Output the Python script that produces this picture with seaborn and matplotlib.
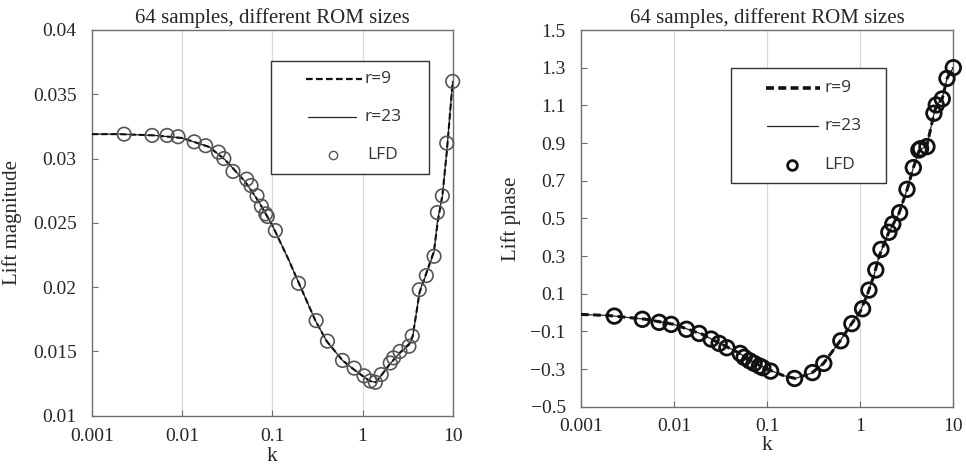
import numpy as np
import pandas as pd
import matplotlib
matplotlib.use("Agg")
import matplotlib.pyplot as plt
import seaborn as sns
from matplotlib.ticker import FixedLocator, FixedFormatter, NullLocator
from matplotlib.lines import Line2D
from matplotlib.patches import Rectangle

# ---------------- data ----------------
title = "64 samples, different ROM sizes"
x_label = "k"
mag_label = "Lift magnitude"
phase_label = "Lift phase"
series_labels = ["r=9", "r=23", "LFD"]

x_ticks = [0.001, 0.01, 0.1, 1, 10]
x_tick_labels = ["0.001", "0.01", "0.1", "1", "10"]
mag_ticks = [0.01, 0.015, 0.02, 0.025, 0.03, 0.035, 0.04]
mag_tick_labels = ["0.01", "0.015", "0.02", "0.025", "0.03", "0.035", "0.04"]
phase_ticks = [-0.5, -0.3, -0.1, 0.1, 0.3, 0.5, 0.7, 0.9, 1.1, 1.3, 1.5]
phase_tick_labels = ["\u22120.5", "\u22120.3", "\u22120.1", "0.1", "0.3", "0.5",
                     "0.7", "0.9", "1.1", "1.3", "1.5"]

# ROM curves, lift magnitude
mag_line_k = [0.001, 0.002, 0.005, 0.01, 0.02, 0.03, 0.05, 0.07, 0.1, 0.15, 0.2,
              0.3, 0.4, 0.6, 0.8, 1.0, 1.2, 1.4, 1.6, 2.0, 2.6, 3.3, 3.6, 4.3,
              5.1, 6.2, 6.8, 7.7, 8.6, 10.0]
mag_r9 = [0.0319, 0.0319, 0.0318, 0.0316, 0.0309, 0.0299, 0.0282, 0.0267, 0.0248,
          0.0222, 0.0202, 0.0174, 0.0158, 0.0143, 0.0136, 0.0131, 0.0127, 0.0126,
          0.0131, 0.0140, 0.0149, 0.0156, 0.0162, 0.0196, 0.0211, 0.0228, 0.0250,
          0.0272, 0.0305, 0.0360]
mag_r23 = [0.0319, 0.0319, 0.0318, 0.0316, 0.0309, 0.0299, 0.0282, 0.0267, 0.0248,
           0.0222, 0.0202, 0.0174, 0.0158, 0.0143, 0.0136, 0.0131, 0.0127, 0.0126,
           0.0131, 0.0140, 0.0149, 0.0155, 0.0161, 0.0197, 0.0210, 0.0227, 0.0252,
           0.0271, 0.0306, 0.0360]

# LFD samples, lift magnitude
lfd_mag_k = [0.00227, 0.00464, 0.0068, 0.0090, 0.0136, 0.0182, 0.0253, 0.0290,
             0.0366, 0.0519, 0.058, 0.0676, 0.0755, 0.0844, 0.088, 0.108, 0.195,
             0.306, 0.408, 0.600, 0.808, 1.04, 1.22, 1.39, 1.61, 2.03, 2.21, 2.60,
             3.27, 3.56, 4.26, 5.10, 6.21, 6.76, 7.68, 8.58, 10.0]
lfd_mag = [0.0319, 0.0318, 0.0318, 0.0317, 0.0313, 0.0310, 0.0305, 0.0300, 0.0290,
           0.0284, 0.0279, 0.0271, 0.0263, 0.0257, 0.0255, 0.0244, 0.0203, 0.0174,
           0.0158, 0.0143, 0.0137, 0.0131, 0.0127, 0.0126, 0.0132, 0.0141, 0.0145,
           0.0150, 0.0154, 0.0162, 0.0198, 0.0209, 0.0224, 0.0258, 0.0271, 0.0312,
           0.0360]

# ROM curves, lift phase
phase_line_k = [0.001, 0.002, 0.005, 0.01, 0.02, 0.03, 0.05, 0.07, 0.1, 0.15, 0.2,
                0.3, 0.4, 0.6, 0.8, 1.0, 1.2, 1.4, 1.6, 2.0, 2.6, 3.2, 3.7, 4.3,
                5.2, 6.2, 6.6, 7.6, 8.6, 10.0]
phase_r9 = [-0.010, -0.016, -0.036, -0.063, -0.115, -0.160, -0.215, -0.262, -0.300,
            -0.335, -0.350, -0.322, -0.272, -0.155, -0.062, 0.005, 0.100, 0.195,
            0.300, 0.420, 0.525, 0.655, 0.765, 0.860, 0.885, 1.055, 1.100, 1.135,
            1.245, 1.300]
phase_r23 = [-0.010, -0.016, -0.036, -0.063, -0.115, -0.160, -0.215, -0.262, -0.300,
             -0.335, -0.350, -0.322, -0.272, -0.155, -0.062, 0.005, 0.100, 0.195,
             0.300, 0.420, 0.525, 0.655, 0.765, 0.862, 0.884, 1.055, 1.100, 1.135,
             1.245, 1.300]

# LFD samples, lift phase
lfd_phase_k = [0.00228, 0.00456, 0.0069, 0.0093, 0.0136, 0.0186, 0.025, 0.0305,
               0.0369, 0.0513, 0.0566, 0.0646, 0.0725, 0.0827, 0.0898, 0.109, 0.197,
               0.307, 0.406, 0.619, 0.813, 1.06, 1.24, 1.47, 1.67, 2.03, 2.24, 2.65,
               3.18, 3.72, 4.27, 4.45, 5.21, 6.19, 6.56, 7.61, 8.55, 10.0]
lfd_phase = [-0.019, -0.036, -0.052, -0.063, -0.089, -0.111, -0.141, -0.164, -0.187,
             -0.217, -0.238, -0.256, -0.270, -0.284, -0.293, -0.311, -0.350, -0.319,
             -0.270, -0.150, -0.059, 0.020, 0.119, 0.226, 0.335, 0.426, 0.470, 0.530,
             0.654, 0.769, 0.863, 0.870, 0.881, 1.058, 1.102, 1.134, 1.243, 1.300]

# ---------------- style ----------------
sns.set_theme(style="white")
plt.rcParams["font.family"] = ["Liberation Serif", "DejaVu Serif"]
plt.rcParams["axes.unicode_minus"] = True

W, H = 966, 465
fig = plt.figure(figsize=(W / 100, H / 100), dpi=100)
fig.patch.set_facecolor("white")

def px_rect(x0, y0, x1, y1):
    return [x0 / W, 1 - y1 / H, (x1 - x0) / W, (y1 - y0) / H]

ax1 = fig.add_axes(px_rect(92, 30, 452.7, 415.7))
ax2 = fig.add_axes(px_rect(581, 30, 953.3, 406.7))

spine_col = "#6e6e6e"
grid_col = "#d9d9d9"
text_col = "#262626"

def style_axis(ax, yticks, ylabels, ylim, ylabel, xpad, ylabel_pad, xlabel_pad):
    ax.set_xscale("log")
    ax.set_xlim(0.001, 10)
    ax.set_ylim(*ylim)
    ax.xaxis.set_major_locator(FixedLocator(x_ticks))
    ax.xaxis.set_major_formatter(FixedFormatter(x_tick_labels))
    ax.xaxis.set_minor_locator(NullLocator())
    ax.yaxis.set_major_locator(FixedLocator(yticks))
    ax.yaxis.set_major_formatter(FixedFormatter(ylabels))
    ax.yaxis.set_minor_locator(NullLocator())
    ax.tick_params(axis="x", direction="in", length=4, width=0.8, color=spine_col,
                   labelsize=14, pad=xpad, labelcolor=text_col, bottom=True)
    ax.tick_params(axis="y", direction="in", length=4, width=0.8, color=spine_col,
                   labelsize=14, pad=11, labelcolor=text_col, left=True)
    for s in ax.spines.values():
        s.set_color(spine_col)
        s.set_linewidth(1.0)
    ax.grid(False)
    for xv in x_ticks[1:-1]:
        ax.axvline(xv, color=grid_col, lw=0.9, zorder=0)
    ax.set_title(title, fontsize=15, pad=5, color=text_col)
    ax.set_xlabel(x_label, fontsize=15.5, labelpad=xlabel_pad, color=text_col)
    ax.set_ylabel(ylabel, fontsize=15, labelpad=ylabel_pad, color=text_col)

# ---------------- left: magnitude ----------------
df_mag = pd.DataFrame({"k": mag_line_k, "r9": mag_r9, "r23": mag_r23})
df_mag_lfd = pd.DataFrame({"k": lfd_mag_k, "val": lfd_mag})

sns.lineplot(data=df_mag, x="k", y="r23", ax=ax1, color="#222222", lw=0.9,
             linestyle="-", zorder=3)
sns.lineplot(data=df_mag, x="k", y="r9", ax=ax1, color="#111111", lw=1.5,
             linestyle=(0, (3, 1.5)), zorder=4)
sns.scatterplot(data=df_mag_lfd, x="k", y="val", ax=ax1, marker="o", s=95,
                facecolor="none", edgecolor="#555555", linewidth=1.2, zorder=5,
                clip_on=False)
style_axis(ax1, mag_ticks, mag_tick_labels, (0.01, 0.04), mag_label, 9, 8, 1)

# ---------------- right: phase ----------------
df_ph = pd.DataFrame({"k": phase_line_k, "r9": phase_r9, "r23": phase_r23})
df_ph_lfd = pd.DataFrame({"k": lfd_phase_k, "val": lfd_phase})

sns.lineplot(data=df_ph, x="k", y="r23", ax=ax2, color="#222222", lw=0.9,
             linestyle="-", zorder=3)
sns.lineplot(data=df_ph, x="k", y="r9", ax=ax2, color="#111111", lw=2.2,
             linestyle=(0, (2.5, 1.5)), zorder=4)
sns.scatterplot(data=df_ph_lfd, x="k", y="val", ax=ax2, marker="o", s=110,
                facecolor="none", edgecolor="#111111", linewidth=2.0, zorder=5,
                clip_on=False)
style_axis(ax2, phase_ticks, phase_tick_labels, (-0.5, 1.5), phase_label, 8, 7, 1)

# ---------------- legends (Excel-like boxes) ----------------
def fx(px):
    return px / W

def fy(py):
    return 1 - py / H

def draw_legend(box, rows, dash_seg, solid_seg, marker_x, text_x, dash_lw, dash_style,
                mk_size, mk_lw, mk_col):
    x0, y0, x1, y1 = box
    fig.add_artist(Rectangle((fx(x0), fy(y1)), fx(x1 - x0), (y1 - y0) / H,
                             transform=fig.transFigure, facecolor="white",
                             edgecolor="#333333", lw=1.0, zorder=10))
    fig.add_artist(Line2D([fx(dash_seg[0]), fx(dash_seg[1])], [fy(rows[0])] * 2,
                          transform=fig.transFigure, color="#111111", lw=dash_lw,
                          linestyle=dash_style, zorder=11))
    fig.add_artist(Line2D([fx(solid_seg[0]), fx(solid_seg[1])], [fy(rows[1])] * 2,
                          transform=fig.transFigure, color="#222222", lw=0.9,
                          zorder=11))
    fig.add_artist(Line2D([fx(marker_x)], [fy(rows[2])], transform=fig.transFigure,
                          marker="o", markersize=mk_size, markerfacecolor="none",
                          markeredgecolor=mk_col, markeredgewidth=mk_lw,
                          linestyle="none", zorder=11))
    for lab, ry, tx in zip(series_labels, rows, text_x):
        fig.text(fx(tx), fy(ry), lab, fontsize=12.5, va="center", ha="left",
                 family=["Open Sans", "DejaVu Sans"], color="#333333", zorder=12)

draw_legend((271, 61, 429, 174), (79, 117, 155), (306, 362), (308, 356), 333,
            (365, 365, 367), 1.6, (0, (3, 1.5)), 6, 1.0, "#555555")
draw_legend((731, 68, 886, 183), (88, 126, 165), (766, 820), (767, 818), 792,
            (824, 824, 824), 2.6, (0, (2.2, 1.2)), 7, 2.0, "#111111")

fig.savefig("out.png", dpi=100, facecolor="white")
